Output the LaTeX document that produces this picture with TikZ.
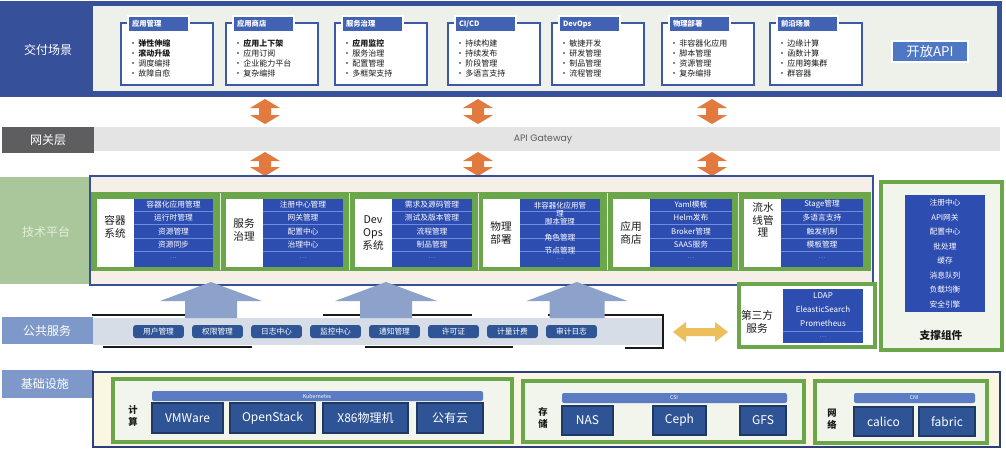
\documentclass[tikz,border=0pt]{standalone}
\usepackage{fontspec}
\setmainfont{Noto Sans CJK SC}
\newfontfamily\gothicfont{Poppins}
\definecolor{navy}{HTML}{36509A}
\definecolor{panel}{HTML}{EDF1EA}
\definecolor{cardblue}{HTML}{3C58A8}
\definecolor{tabblue}{HTML}{4262B4}
\definecolor{apiblue}{HTML}{4F78C4}
\definecolor{gwgray}{HTML}{5E5E60}
\definecolor{gwbar}{HTML}{E4E4E4}
\definecolor{orangeA}{HTML}{E2793F}
\definecolor{techgreen}{HTML}{A9C79A}
\definecolor{techtext}{HTML}{E4EEDC}
\definecolor{platfill}{HTML}{F6EFE8}
\definecolor{gbord}{HTML}{6CA64A}
\definecolor{cellblue}{HTML}{2E4DB0}
\definecolor{sepblue}{HTML}{6E8DDB}
\definecolor{pubblue}{HTML}{7E99C9}
\definecolor{pubbar}{HTML}{D6DDE7}
\definecolor{pillblue}{HTML}{2F5597}
\definecolor{arrowblue}{HTML}{8CA2CB}
\definecolor{yellowA}{HTML}{EDBE5C}
\definecolor{infraborder}{HTML}{2C3F7C}
\definecolor{infrafill}{HTML}{FBF6E1}
\definecolor{gfill}{HTML}{F1F5EB}
\definecolor{k8sblue}{HTML}{5B7CC3}
\definecolor{boxblue}{HTML}{2F5496}
\definecolor{boxborder}{HTML}{1F3864}
\definecolor{inkblack}{HTML}{1A1A1A}

\newcommand\dcard[4]{%
  \draw[cardframe] (#1,23) rectangle (#1+92,85);
  \draw[cardtab] (#1+7,16) rectangle (#1+68,32);
  \node[tabtext,anchor=west] (#2tab) at (#1+11,24) {#3};
  \foreach \lab [count=\i] in {#4} \node[cardtxt] (#2i\i) at (#1+8,43+\i*10.3-10.3) {·\,\lab};
}
\newcommand\pbox[3]{%
  \fill[white] (#1,199) rectangle (#1+37,267);
  \fill[cellblue] (#1+37,199) rectangle (#1+37+#3,267);
  \foreach \yy in {211,224.5,238,251.5} \draw[sepline] (#1+37,\yy) -- (#1+37+#3,\yy);
}
\newcommand\pitems[3]{%
  \foreach \lab [count=\i] in {#3} \node[celltxt] (#2r\i) at (#1,204.5+\i*13.5-13.5) {\lab};
  \node[celltxt,font=\fontsize{4}{5}\selectfont] (#2dots) at (#1,258) {.\,.\,.};
}
\newcommand\vdbl[3]{%
  \fill[orangeA] (#1,#2) -- (#1+15,#2+9) -- (#1+6,#2+9) -- (#1+6,#3-9) -- (#1+15,#3-9)
   -- (#1,#3) -- (#1-15,#3-9) -- (#1-6,#3-9) -- (#1-6,#2+9) -- (#1-15,#2+9) -- cycle;
}
\newcommand\bigup[3]{%
  \fill[arrowblue] (#1,282) -- (#1+#2,301) -- (#1+#3,301) -- (#1+#3,318) -- (#1-#3,318)
   -- (#1-#3,301) -- (#1-#2,301) -- cycle;
}

\begin{document}
\begin{tikzpicture}[x=0.75pt,y=-0.75pt,
  every node/.style={inner sep=0pt,outer sep=0pt},
  lbl/.style={text=white,font=\fontsize{9}{10}\selectfont},
  cardframe/.style={draw=cardblue,line width=1.6pt,fill=white},
  cardtab/.style={fill=tabblue,draw=white,line width=1.4pt},
  tabtext/.style={text=white,font=\fontsize{5.5}{6}\selectfont\bfseries},
  cardtxt/.style={anchor=west,text=inkblack,font=\fontsize{6}{7}\selectfont},
  celltxt/.style={text=white,font=\fontsize{5.8}{6.5}\selectfont},
  ptitle/.style={align=center,text=inkblack,font=\fontsize{8}{9.5}\selectfont},
  sepline/.style={draw=sepblue,line width=0.4pt},
  pill/.style={fill=pillblue,rounded corners=2pt,minimum width=38pt,minimum height=9.75pt,text=white,font=\fontsize{5.8}{6.5}\selectfont},
  ibox/.style={fill=boxblue,draw=boxborder,line width=0.8pt,text=white,font=\fontsize{9}{10}\selectfont},
  gframe/.style={draw=gbord,line width=2.3pt,fill=gfill},
  ititle/.style={align=center,text=inkblack,font=\fontsize{7}{8.5}\selectfont\bfseries},
  blackline/.style={draw=inkblack,line width=1.5pt}
]
\useasboundingbox (0,0) rectangle (1006,455);
\fill[white] (0,0) rectangle (1006,455);

% ===== delivery scenarios
\fill[navy] (0,1) rectangle (1002,97);
\fill[panel] (93,6) rectangle (997,91);
\node[lbl] (deliv) at (48,50) {交付场景};
\dcard{121}{ca}{应用管理}{\textbf{弹性伸缩},\textbf{滚动升级},调度编排,故障自愈}
\dcard{226}{cb}{应用商店}{\textbf{应用上下架},应用订阅,企业能力平台,复杂编排}
\dcard{335}{cc}{服务治理}{\textbf{应用监控},服务治理,配置管理,多框架支持}
\dcard{448}{cd}{CI/CD}{持续构建,持续发布,阶段管理,多语言支持}
\dcard{552}{ce}{DevOps}{敏捷开发,研发管理,制品管理,流程管理}
\dcard{662}{cf}{物理部署}{非容器化应用,脚本管理,资源管理,复杂编排}
\dcard{770}{cg}{前沿场景}{边缘计算,函数计算,应用跨集群,群容器}
\draw[fill=apiblue,draw=white,line width=1.2pt] (892,41) rectangle (968,62);
\node[text=white,font=\fontsize{10}{11}\selectfont] (openapi) at (930,51.5) {开放API};

% ===== gateway
\fill[gwgray] (2,127) rectangle (94,153);
\node[lbl] (gwlbl) at (48,140) {网关层};
\fill[gwbar] (94,127) rectangle (1000,151);
\node[text=gwgray,font=\gothicfont\fontsize{7}{8}\selectfont] (gw) at (543,139) {API Gateway};
\vdbl{265}{99}{124}
\vdbl{478}{99}{124}
\vdbl{712}{99}{124}
\vdbl{265}{152}{176}
\vdbl{478}{152}{176}
\vdbl{712}{152}{176}

% ===== technical platform
\fill[techgreen] (0,177) rectangle (90,284);
\node[text=techtext,font=\fontsize{9}{10}\selectfont] (techlbl) at (46,232) {技术平台};
\draw[draw=navy,line width=1.3pt,fill=platfill] (90,176) rectangle (873,285);
\fill[gbord] (91,192) rectangle (871,271);
\foreach \xx in {220,349,478,607,738} \draw[white!80!gbord,line width=0.6pt] (\xx,193) -- (\xx,270);
\pbox{97}{pa}{79}
\pbox{226}{pb}{80}
\pbox{355}{pc}{80}
\pbox{483}{pd}{80}
\pbox{613}{pe}{82}
\pbox{744}{pf}{82}
\node[ptitle] (pat) at (115,227) {容器\\系统};
\node[ptitle] (pbt) at (244,230) {服务\\治理};
\node[ptitle] (pct) at (373,233) {Dev\\Ops\\系统};
\node[ptitle] (pdt) at (501,233) {物理\\部署};
\node[ptitle] (pet) at (631,233) {应用\\商店};
\node[ptitle] (pft) at (763,220) {流水\\线管\\理};
\pitems{173.5}{pa}{容器化应用管理,运行时管理,资源管理,资源同步}
\pitems{303}{pb}{注册中心管理,网关管理,配置中心,治理中心}
\pitems{432}{pc}{需求及源码管理,测试及版本管理,流程管理,制品管理}
\node[celltxt,align=center,font=\fontsize{5.6}{6}\selectfont] (pdr1) at (560,213.5) {非容器化应用管\\理\\脚本管理};
\node[celltxt] (pdr2) at (560,238) {角色管理};
\node[celltxt] (pdr3) at (560,250.5) {节点管理};
\node[celltxt,font=\fontsize{4}{5}\selectfont] (pdr4) at (560,259) {.\,.\,.};
\pitems{691}{pe}{Yaml模板,Helm发布,Broker管理,SAAS服务}
\pitems{822}{pf}{Stage管理,多语言支持,触发机制,模板管理}

% ===== support components
\draw[draw=gbord,line width=2.3pt,fill=gfill] (881,182) rectangle (1002,350);
\fill[cellblue] (905,195) rectangle (985,312);
\foreach \lab [count=\i] in {注册中心,API网关,配置中心,批处理,缓存,消息队列,负载均衡,安全引擎}
  \node[celltxt] (sup\i) at (945,203+\i*14.43-14.43) {\lab};
\node[text=inkblack,font=\fontsize{8}{9}\selectfont\bfseries] (suptitle) at (941,335) {支撑组件};

% ===== third party
\draw[draw=gbord,line width=2.3pt,fill=white] (739,284) rectangle (875,347);
\fill[cellblue] (783,289) rectangle (863,343);
\draw[sepline] (783,331) -- (863,331);
\node[ptitle,font=\fontsize{8}{9.5}\selectfont] (tpt) at (757,322) {第三方\\服务};
\foreach \lab [count=\i] in {LDAP,EleasticSearch,Prometheus}
  \node[celltxt,font=\fontsize{6}{7}\selectfont] (tp\i) at (823,296+\i*13.5-13.5) {\lab};
\node[celltxt,font=\fontsize{4}{5}\selectfont] (tp4) at (823,337) {.\,.\,.};
\fill[yellowA] (673,332) -- (686,322) -- (686,328) -- (715,328) -- (715,322) -- (728,332)
  -- (715,342) -- (715,336) -- (686,336) -- (686,342) -- cycle;

% ===== public services
\fill[pubblue] (2,317) rectangle (93,344);
\node[lbl] (publbl) at (47,331) {公共服务};
\fill[pubbar] (93,318) rectangle (663,345);
\draw[blackline] (92,315) -- (237,315);
\draw[blackline] (323,315) -- (472,315);
\draw[blackline] (548,315) -- (663,315) -- (663,348) -- (625,348);
\draw[blackline] (103,347) -- (252,347);
\draw[blackline] (365,347) -- (513,347);
\bigup{211}{51}{26}
\bigup{386}{51}{26}
\bigup{577}{50.5}{27.5}
\foreach \lab [count=\i] in {用户管理,权限管理,日志中心,监控中心,通知管理,许可证,计量计费,审计日志}
  \node[pill] (pub\i) at (158.5+\i*59-59,331.5) {\lab};

% ===== infrastructure
\fill[pubblue] (2,370) rectangle (93,398);
\node[lbl] (infralbl) at (45,384) {基础设施};
\draw[draw=infraborder,line width=1.5pt,fill=infrafill] (93,372) rectangle (1000,447);
\draw[gframe] (113,379) rectangle (512,442);
\draw[gframe] (523,381) rectangle (804,442);
\draw[gframe] (815,381) rectangle (987,443);
\node[ititle] (comp) at (133,416) {计\\算};
\node[ititle] (stor) at (543,418) {存\\储};
\node[ititle] (netw) at (832,419) {网\\络};
\fill[k8sblue,rounded corners=1.5pt] (152,391) rectangle (483,401);
\node[text=white,font=\fontsize{4}{5}\selectfont] (k8s) at (317,396) {Kubernetes};
\fill[k8sblue,rounded corners=1.5pt] (562,393) rectangle (787,403);
\node[text=white,font=\fontsize{4}{5}\selectfont] (csi) at (674,398) {CSI};
\fill[k8sblue,rounded corners=1.5pt] (854,393) rectangle (975,403);
\node[text=white,font=\fontsize{4}{5}\selectfont] (cni) at (914,398) {CNI};
\node[ibox,minimum width=53.25pt,minimum height=22.5pt] (vmw) at (187.5,418) {VMWare};
\node[ibox,minimum width=63.75pt,minimum height=22.5pt] (ops) at (272.5,418) {OpenStack};
\node[ibox,minimum width=63.75pt,minimum height=22.5pt] (x86) at (365.5,418) {X86物理机};
\node[ibox,minimum width=49.5pt,minimum height=22.5pt] (pub) at (450,418) {公有云};
\node[ibox,minimum width=38.25pt,minimum height=21.75pt] (nas) at (587.5,420.5) {NAS};
\node[ibox,minimum width=39.75pt,minimum height=21.75pt] (ceph) at (679.5,420.5) {Ceph};
\node[ibox,minimum width=34.5pt,minimum height=21.75pt] (gfs) at (763,420.5) {GFS};
\node[ibox,minimum width=44.25pt,minimum height=21.75pt] (calico) at (883.5,421.5) {calico};
\node[ibox,minimum width=42pt,minimum height=21.75pt] (fabric) at (947,421.5) {fabric};
\end{tikzpicture}
\end{document}
